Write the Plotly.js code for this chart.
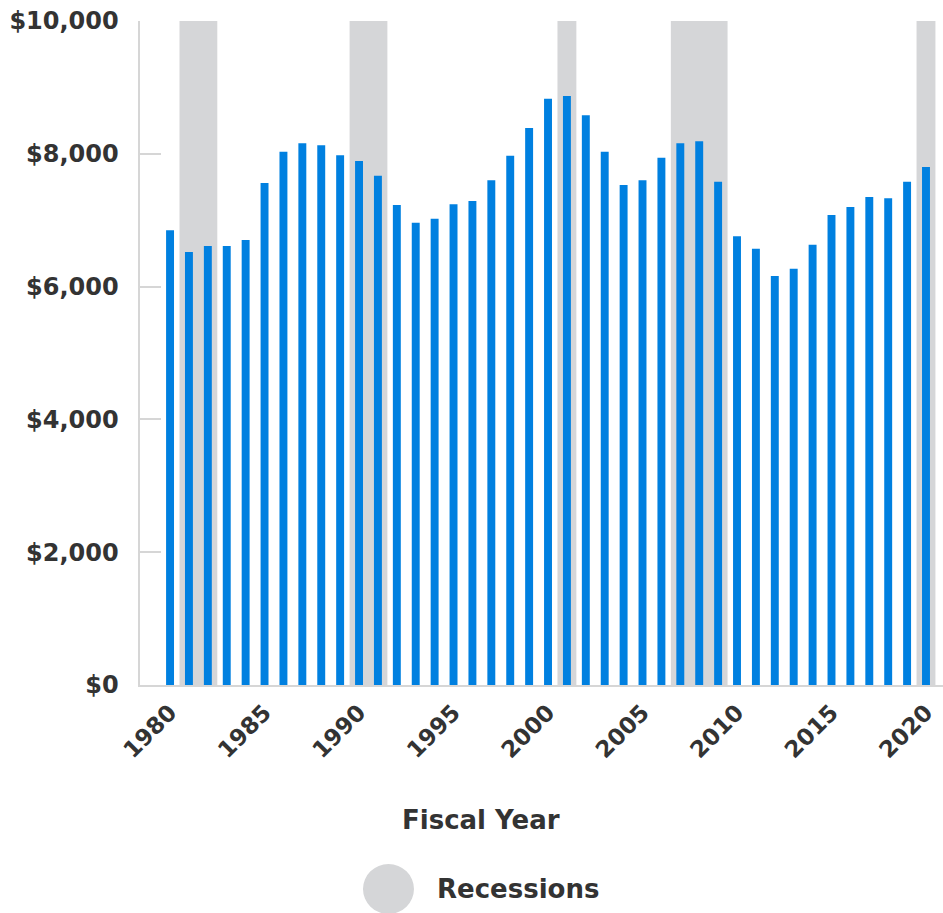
<!DOCTYPE html>
<html>
<head>
<meta charset="utf-8">
<script src="https://cdn.plot.ly/plotly-3.0.1.min.js"></script>
<style>html,body{margin:0;padding:0;background:#fff;}#chart{width:943px;height:913px;}</style>
</head>
<body>
<div id="chart"></div>
<script>
const years = [1980,1981,1982,1983,1984,1985,1986,1987,1988,1989,1990,1991,1992,1993,1994,1995,1996,1997,1998,1999,2000,2001,2002,2003,2004,2005,2006,2007,2008,2009,2010,2011,2012,2013,2014,2015,2016,2017,2018,2019,2020];
const values = [6850,6520,6610,6610,6700,7560,8030,8160,8130,7980,7890,7670,7230,6960,7020,7240,7290,7600,7970,8390,8830,8870,8580,8030,7530,7600,7940,8160,8190,7580,6760,6570,6160,6270,6630,7080,7200,7350,7330,7580,7800];
const recessionStart = [1981, 1990, 2001, 2007, 2020];
const recessionEnd   = [1982, 1991, 2001, 2009, 2020];
const yTicks = [0, 2000, 4000, 6000, 8000, 10000];
const yTickLabels = ['$0', '$2,000', '$4,000', '$6,000', '$8,000', '$10,000'];
const xTicks = [1980, 1985, 1990, 1995, 2000, 2005, 2010, 2015, 2020];
const xTitle = 'Fiscal Year';
const legendLabel = 'Recessions';

const font = 'DejaVu Sans';
const textColor = '#333333';
const grey = '#d5d6d8';

const shapes = recessionStart.map((s, i) => ({
  type: 'rect', xref: 'x', yref: 'paper', layer: 'below',
  x0: s - 0.5, x1: recessionEnd[i] + 0.5, y0: 0, y1: 1,
  fillcolor: grey, line: {width: 0}
}));
// legend swatch
shapes.push({
  type: 'circle', xref: 'paper', yref: 'paper',
  x0: 0.2777, x1: 0.3412, y0: -0.3449, y1: -0.2696,
  fillcolor: grey, line: {width: 0}
});

const trace = {
  type: 'bar', x: years, y: values, width: 0.42,
  marker: {color: '#0080e0'}, hoverinfo: 'skip', showlegend: false
};

const layout = {
  width: 943, height: 913,
  margin: {l: 140, r: 0, t: 21, b: 228},
  paper_bgcolor: '#fff', plot_bgcolor: 'rgba(0,0,0,0)',
  showlegend: false,
  font: {family: font, color: textColor},
  xaxis: {
    range: [1978.41, 2020.9], tickvals: xTicks, ticktext: xTicks.map(String),
    tickangle: -45, ticks: '', showgrid: false, zeroline: false,
    showline: true, linecolor: '#d6d6d6', linewidth: 2,
    ticklabelstandoff: 3,
    tickfont: {family: font, size: 23, color: textColor, weight: 700},
    fixedrange: true
  },
  yaxis: {
    range: [0, 10000], tickmode: 'array', tickvals: yTicks, ticktext: yTickLabels,
    ticks: 'inside', ticklen: 21, tickwidth: 2, tickcolor: '#d6d6d6',
    showgrid: false, zeroline: false,
    showline: true, linecolor: '#d6d6d6', linewidth: 2.5,
    ticklabelstandoff: 14,
    tickfont: {family: font, size: 24, color: textColor, weight: 700},
    fixedrange: true
  },
  shapes: shapes,
  annotations: [
    {text: xTitle, xref: 'paper', yref: 'paper', x: 0.4247, y: -0.203,
     xanchor: 'center', yanchor: 'middle', showarrow: false,
     font: {family: font, size: 26, color: textColor, weight: 700}},
    {text: legendLabel, xref: 'paper', yref: 'paper', x: 0.3674, y: -0.3072,
     xanchor: 'left', yanchor: 'middle', showarrow: false,
     font: {family: font, size: 26, color: textColor, weight: 700}}
  ]
};

Plotly.newPlot('chart', [trace], layout, {displayModeBar: false, staticPlot: true});
</script>
</body>
</html>
